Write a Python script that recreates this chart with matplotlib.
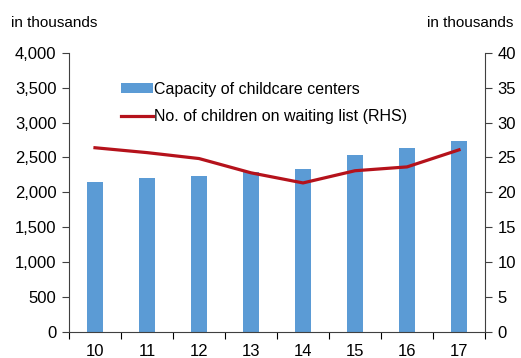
import numpy as np
import matplotlib.pyplot as plt
from matplotlib.patches import Patch
from matplotlib.lines import Line2D

plt.rcParams['font.family'] = ['Liberation Sans', 'DejaVu Sans']

# ------------------------------------------------------------
# Data
# ------------------------------------------------------------
years = ['10', '11', '12', '13', '14', '15', '16', '17']
capacity = [2155, 2200, 2240, 2285, 2335, 2540, 2630, 2735]      # in thousands (LHS)
waiting = [26.4, 25.7, 24.85, 22.8, 21.35, 23.1, 23.65, 26.1]     # in thousands (RHS)

bar_color = '#5B9BD5'
line_color = '#B5121B'
spine_color = '#404040'

# ------------------------------------------------------------
# Figure
# ------------------------------------------------------------
fig = plt.figure(figsize=(5.21, 3.58), dpi=100)
ax = fig.add_axes([0.1324, 0.0735, 0.7986, 0.7785])
ax2 = ax.twinx()

x = np.arange(len(years))
ax.bar(x, capacity, width=0.31, color=bar_color, zorder=2)
ax2.plot(x, waiting, color=line_color, lw=2.3, zorder=3)

ax.set_xlim(-0.5, len(years) - 0.5)
ax.set_ylim(0, 4000)
ax2.set_ylim(0, 40)
ax.set_yticks(np.arange(0, 4001, 500))
ax.set_yticklabels([f'{v:,}' for v in range(0, 4001, 500)])
ax2.set_yticks(np.arange(0, 41, 5))

# x ticks on category boundaries, labels centered
ax.set_xticks(np.arange(-0.5, len(years), 1.0))
ax.set_xticklabels([])
ax.set_xticks(x, minor=True)
ax.set_xticklabels(years, minor=True)
ax.tick_params(axis='x', which='minor', length=0, pad=9)
ax.tick_params(axis='x', which='major', length=5, direction='out', color=spine_color)

for a in (ax, ax2):
    a.spines['top'].set_visible(False)
    for s in ('left', 'right', 'bottom'):
        a.spines[s].set_color(spine_color)
    a.tick_params(labelsize=12, colors='black')
    a.tick_params(axis='y', length=5, color=spine_color, pad=4)
ax.spines['right'].set_visible(False)
ax2.spines['left'].set_visible(False)
ax2.spines['bottom'].set_visible(False)
ax.tick_params(axis='x', which='both', labelsize=12)

fig.text(0.022, 0.935, 'in thousands', fontsize=11, ha='left', va='center')
fig.text(0.985, 0.935, 'in thousands', fontsize=11, ha='right', va='center')

handles = [Patch(facecolor=bar_color, edgecolor='none'),
           Line2D([0], [0], color=line_color, lw=2.3)]
labels = ['Capacity of childcare centers', 'No. of children on waiting list (RHS)']
leg = ax.legend(handles, labels, loc='upper left', bbox_to_anchor=(0.11, 0.92),
                frameon=False, fontsize=11.5, handlelength=2.0, handleheight=0.5,
                handletextpad=0.05, labelspacing=0.75, borderaxespad=0)

fig.savefig('out.png', dpi=100)
